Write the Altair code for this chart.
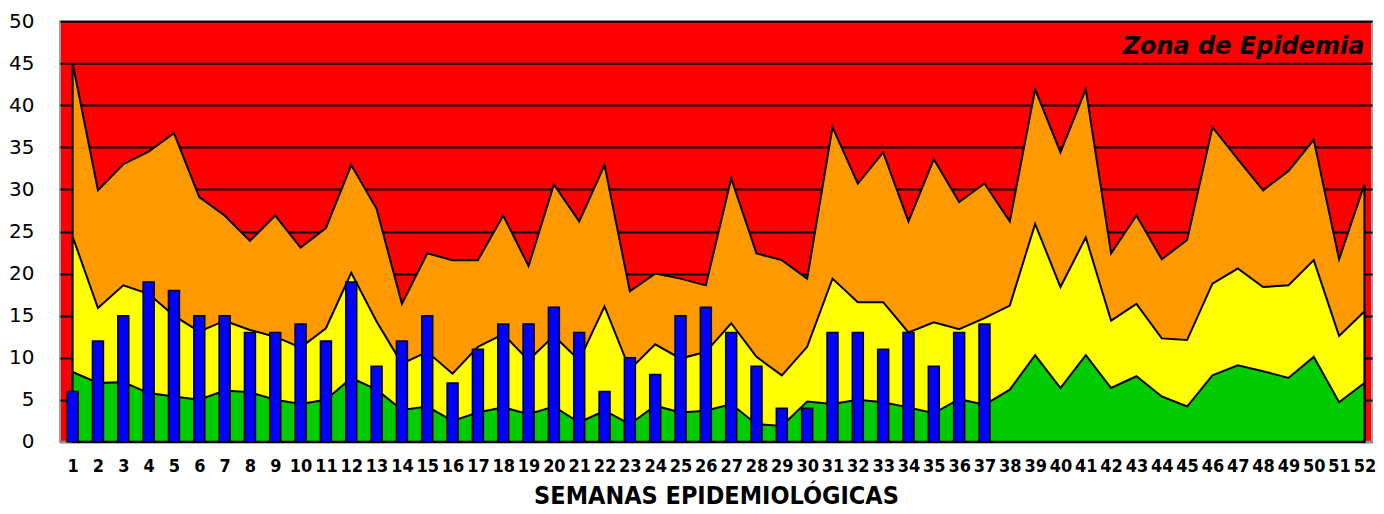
import altair as alt
import pandas as pd

weeks = list(range(1, 53))

upper = [45.0, 29.9, 33.0, 34.5, 36.7, 29.1, 26.9, 23.9, 26.9, 23.1,
         25.4, 32.9, 27.7, 16.4, 22.4, 21.6, 21.6, 26.9, 20.9, 30.6,
         26.2, 32.9, 17.9, 20.0, 19.4, 18.6, 31.3, 22.4, 21.6, 19.4,
         37.4, 30.7, 34.4, 26.2, 33.6, 28.5, 30.7, 26.2, 41.9, 34.4,
         41.9, 22.4, 26.9, 21.7, 24.0, 37.4, 33.6, 29.9, 32.2, 35.9,
         21.7, 30.6]

middle = [24.4, 15.9, 18.6, 17.6, 15.0, 13.1, 14.4, 13.3, 12.5, 11.2,
          13.5, 20.1, 14.3, 9.3, 10.7, 8.1, 11.3, 12.8, 9.7, 12.6,
          9.7, 16.1, 8.6, 11.6, 9.9, 10.7, 14.1, 10.1, 7.9, 11.3,
          19.4, 16.6, 16.6, 13.0, 14.2, 13.4, 14.7, 16.2, 25.9, 18.4,
          24.3, 14.4, 16.4, 12.3, 12.1, 18.8, 20.6, 18.4, 18.6, 21.6,
          12.6, 15.5]

lower = [8.3, 7.0, 7.1, 5.8, 5.4, 5.0, 6.1, 5.9, 5.0, 4.5,
         5.0, 7.6, 6.2, 3.8, 4.2, 2.5, 3.5, 4.1, 3.3, 4.2,
         2.3, 3.7, 2.1, 4.3, 3.5, 3.7, 4.5, 2.1, 1.9, 4.8,
         4.5, 5.0, 4.7, 4.1, 3.4, 5.1, 4.4, 6.2, 10.3, 6.4,
         10.3, 6.4, 7.8, 5.4, 4.2, 7.9, 9.1, 8.4, 7.6, 10.1,
         4.7, 7.0]

case_weeks = list(range(1, 38))
cases = [6, 12, 15, 19, 18, 15, 15, 13, 13, 14,
         12, 19, 9, 12, 15, 7, 11, 14, 14, 16,
         13, 6, 10, 8, 15, 16, 13, 9, 4, 4,
         13, 13, 11, 13, 9, 13, 14]

zone_label = "Zona de Epidemia"
x_title = "SEMANAS EPIDEMIOLÓGICAS"

df = pd.DataFrame({"semana": weeks, "upper": upper, "middle": middle, "lower": lower})
dcases = pd.DataFrame({"semana": case_weeks, "casos": cases})

xscale = alt.Scale(domain=[0.5, 52.3], nice=False, zero=False, padding=0)
yscale = alt.Scale(domain=[0, 50], nice=False, padding=0)

cond = "DejaVu Sans Condensed"

xaxis = alt.Axis(values=weeks, format="d", ticks=False, grid=False, title=x_title,
                 labelFont=cond, labelFontWeight="bold",
                 labelFontSize=18, labelColor="black", labelPadding=16, labelFlush=False,
                 labelOverlap=False,
                 domainColor="#A0A0A0", domainWidth=2,
                 titleFont=cond, titleFontWeight="bold",
                 titleFontSize=25, titleColor="black", titlePadding=8)
yaxis = alt.Axis(values=list(range(0, 51, 5)), ticks=False, domain=False, title=None,
                 grid=True, gridColor="black", gridWidth=2, gridOpacity=1,
                 labelFont="DejaVu Sans", labelFontSize=20, labelColor="black",
                 labelPadding=26)

base = alt.Chart(df)

orange = base.mark_area(color="#FF9900", stroke="black", strokeWidth=2, opacity=1).encode(
    x=alt.X("semana:Q", scale=xscale, axis=xaxis),
    y=alt.Y("upper:Q", scale=yscale, axis=yaxis),
)
yellow = base.mark_area(color="#FFFF00", stroke="black", strokeWidth=2, opacity=1).encode(
    x=alt.X("semana:Q", scale=xscale, axis=xaxis),
    y=alt.Y("middle:Q", scale=yscale, axis=yaxis),
)
green = base.mark_area(color="#00CC00", stroke="black", strokeWidth=2, opacity=1).encode(
    x=alt.X("semana:Q", scale=xscale, axis=xaxis),
    y=alt.Y("lower:Q", scale=yscale, axis=yaxis),
)
bars = alt.Chart(dcases).mark_bar(color="#0000FF", stroke="black", strokeWidth=1.5,
                                  size=11, opacity=1).encode(
    x=alt.X("semana:Q", scale=xscale, axis=xaxis),
    y=alt.Y("casos:Q", scale=yscale, axis=yaxis),
)
label = alt.Chart(pd.DataFrame({"x": [52.0], "y": [46.9], "t": [zone_label]})).mark_text(
    align="right", baseline="middle", font="DejaVu Sans", fontSize=24,
    fontStyle="italic", fontWeight="bold", color="black",
).encode(x=alt.X("x:Q", scale=xscale, axis=xaxis),
         y=alt.Y("y:Q", scale=yscale, axis=yaxis), text="t:N")

chart = alt.layer(orange, yellow, green, bars, label).properties(
    width=1313, height=421,
    padding={"left": 0, "top": 3, "right": 0, "bottom": 0},
).configure_view(fill="#FF0000", stroke="#A0A0A0", strokeWidth=2
).configure_axisX(labelOverlap=False)

chart.save("out.html", embed_options={"renderer": "svg", "actions": False})
